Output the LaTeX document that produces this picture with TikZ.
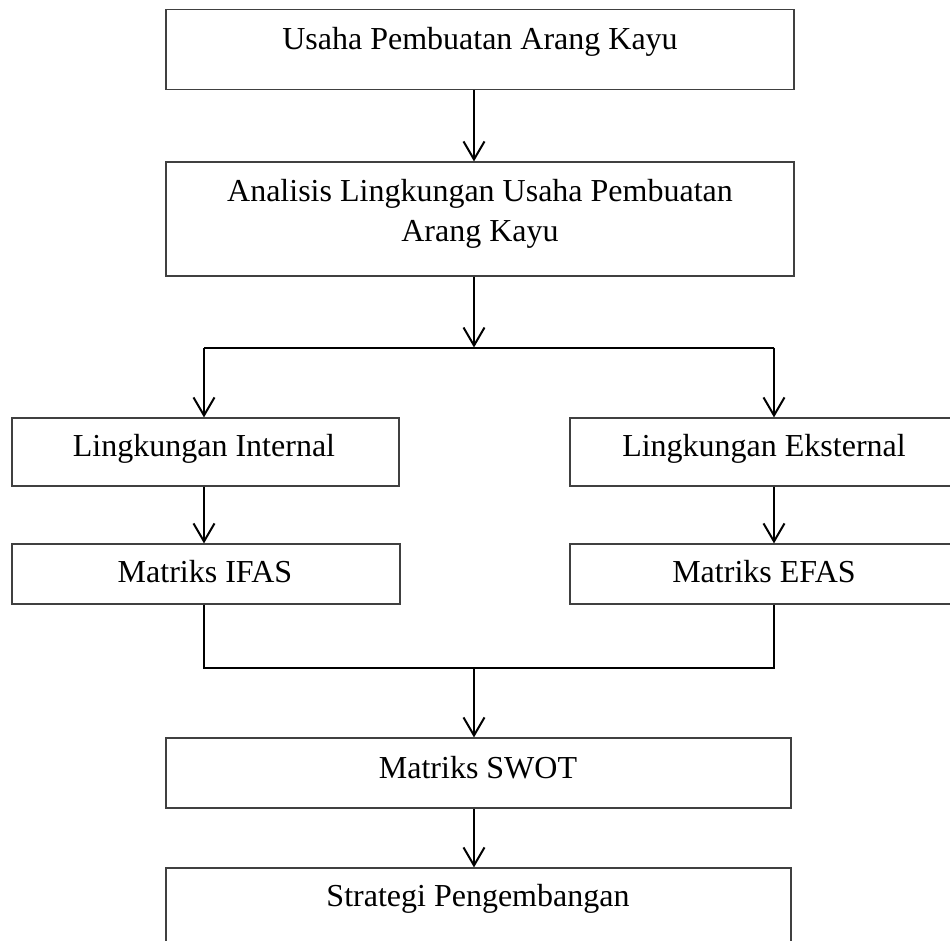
\documentclass[tikz,border=0pt]{standalone}
\usepackage{fontspec}
\setmainfont{Liberation Serif}
\usetikzlibrary{arrows.meta}
\begin{document}
\begin{tikzpicture}[x=1pt,y=-1pt,
  box/.style={draw=black!75, line width=1.2pt, inner sep=0pt, rectangle},
  lbl/.style={anchor=base, inner sep=0pt, font=\fontsize{32}{38}\selectfont},
  conn/.style={line width=2pt},
  arr/.style={conn, -{Straight Barb[length=18pt,width=21pt,line width=2pt]}}]
\useasboundingbox (0,0) rectangle (950,940);
\clip (0,0) rectangle (950,940);
% boxes
\node[box, minimum width=628pt, minimum height=80pt] (b1) at (480,49.7) {};
\node[box, minimum width=628pt, minimum height=114pt] (b2) at (480,219) {};
\node[box, minimum width=387pt, minimum height=68pt] (li) at (205.5,452) {};
\node[box, minimum width=386pt, minimum height=68pt] (le) at (763,452) {};
\node[box, minimum width=388pt, minimum height=60pt] (ifas) at (206,574) {};
\node[box, minimum width=386pt, minimum height=60pt] (efas) at (763,574) {};
\node[box, minimum width=625pt, minimum height=70pt] (swot) at (478.5,773) {};
\node[box, minimum width=625pt, minimum height=92pt] (strat) at (478.5,914) {};
% texts
\node[lbl] (t1) at (480,49) {Usaha Pembuatan Arang Kayu};
\node[lbl] (t2a) at (480,201.7) {Analisis Lingkungan Usaha Pembuatan};
\node[lbl] (t2b) at (480,241.7) {Arang Kayu};
\node[lbl] (tli) at (204,456.7) {Lingkungan Internal};
\node[lbl] (tle) at (764,456.7) {Lingkungan Eksternal};
\node[lbl] (tifas) at (205,582) {Matriks IFAS};
\node[lbl] (tefas) at (764,582) {Matriks EFAS};
\node[lbl] (tswot) at (478,778) {Matriks SWOT};
\node[lbl] (tstrat) at (478,906.7) {Strategi Pengembangan};
% connector coordinates
\coordinate (m) at (474,347.5);
\coordinate (jl) at (204,347.5);
\coordinate (jr) at (774,347.5);
\coordinate (ml) at (204,668);
\coordinate (mr) at (774,668);
\coordinate (mm) at (474,668);
% connectors
\draw[arr] (b1.south -| m) -- (b2.north -| m);
\draw[arr] (b2.south -| m) -- (m);
\draw[conn] (jl) -- (jr);
\draw[arr] (jl) -- (jl |- li.north);
\draw[arr] (jr) -- (jr |- le.north);
\draw[arr] (li.south -| jl) -- (ifas.north -| jl);
\draw[arr] (le.south -| jr) -- (efas.north -| jr);
\draw[conn] (ifas.south -| ml) -- (ml) -- (mr) -- (efas.south -| mr);
\draw[arr] (mm) -- (swot.north -| mm);
\draw[arr] (swot.south -| mm) -- (strat.north -| mm);
\end{tikzpicture}
\end{document}
